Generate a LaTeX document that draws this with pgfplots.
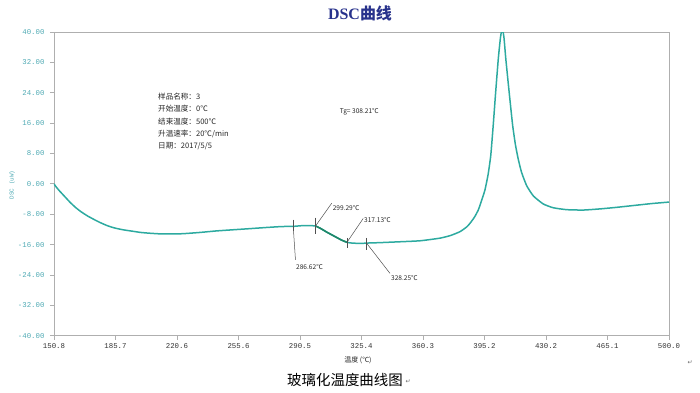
\documentclass[border=0pt]{standalone}
\usepackage{fontspec}
\setmainfont{Liberation Sans}
\newfontfamily\cjk{Noto Sans CJK SC}
\newfontfamily\monof{Liberation Mono}
\newfontfamily\serf{Liberation Serif}
\newfontfamily\djv{DejaVu Sans}
\usepackage{pgfplots}
\pgfplotsset{compat=1.18}
\definecolor{curve}{RGB}{45,170,160}
\definecolor{tickc}{RGB}{80,170,180}
\definecolor{framec}{RGB}{175,175,175}
\definecolor{titlec}{RGB}{40,50,140}
\definecolor{annc}{RGB}{80,80,80}
\definecolor{segc}{RGB}{30,135,105}
\begin{document}
\begin{tikzpicture}
\path[use as bounding box] (0,0) rectangle (700bp,393bp);
\begin{axis}[
  at={(54bp,57.3bp)}, anchor=south west, scale only axis,
  width=615bp, height=303.7bp,
  xmin=150.8, xmax=500, ymin=-40, ymax=40,
  axis line style={framec, line width=0.8bp},
  xtick={150.8,185.7,220.6,255.6,290.5,325.4,360.3,395.2,430.2,465.1,500.0},
  xticklabels={150.8,185.7,220.6,255.6,290.5,325.4,360.3,395.2,430.2,465.1,500.0},
  ytick={-40,-32,-24,-16,-8,0,8,16,24,32,40},
  yticklabels={-40.00,-32.00,-24.00,-16.00,-8.00,0.00,8.00,16.00,24.00,32.00,40.00},
  tick align=outside, major tick length=4bp,
  xtick pos=left, ytick pos=left,
  tick style={framec, line width=0.8bp},
  xticklabel style={font=\monof\fontsize{7.4}{8}\selectfont, text=black!80},
  yticklabel style={font=\monof\fontsize{7.4}{8}\selectfont, text=tickc, xshift=-2bp},
  clip=true,
]
\addplot[curve, line width=1.5bp, smooth, tension=0.3] coordinates {
(150.8,0) (152,-0.8) (154,-1.9) (156,-2.9) (158,-3.9) (160,-4.9) (163,-6.2) (166,-7.3)
(170,-8.5) (174,-9.5) (177,-10.2) (181,-11.0) (185,-11.6) (190,-12.1) (195.7,-12.5)
(200,-12.8) (205,-13.0) (210,-13.15) (215,-13.2) (220,-13.2) (225,-13.1) (233.7,-12.8)
(243,-12.4) (252.4,-12.1) (262,-11.8) (271.2,-11.5) (280,-11.25) (286.62,-11.2)
(292,-11.0) (296,-11.0) (299.29,-11.1) (302,-11.7) (306,-12.8) (310,-13.8) (314,-14.8)
(317.13,-15.4) (320,-15.6) (325,-15.7) (328.25,-15.6) (335,-15.5) (345,-15.3)
(358.6,-15.0) (370,-14.3) (376,-13.6) (381.3,-12.6) (385,-11.4) (387,-10.4) (389.5,-8.8)
(391.7,-6.9) (393.5,-4.5) (395.5,-1.6) (397.3,2.5) (398.8,7.5) (400.2,15.5) (401.6,24.3)
(403.1,33.1) (404.3,38.5) (405.3,41) (406.3,38.5) (407.3,33.1) (409.2,24.3) (411.2,15.5)
(412.8,10.3) (414.4,6.5) (416.3,3.0) (419.2,-0.5) (423.0,-3.2) (428.6,-5.3) (434.3,-6.3)
(441.9,-6.8) (451.3,-6.9) (460.8,-6.6) (470,-6.2) (480,-5.7) (490,-5.2) (500,-4.8)
};
\addplot[segc, line width=1.6bp] coordinates {
(299.29,-11.1) (302,-11.7) (306,-12.8) (310,-13.8) (314,-14.8) (317.13,-15.4)
};
% annotation marks
\draw[annc, line width=0.5bp] (axis cs:286.62,-9.4) -- (axis cs:286.62,-12.4);
\draw[annc, line width=0.5bp] (axis cs:286.62,-11.2) -- (axis cs:287.9,-20.0);
\draw[annc, line width=0.5bp] (axis cs:299.29,-8.9) -- (axis cs:299.29,-13.3);
\draw[annc, line width=0.5bp] (axis cs:299.29,-11.1) -- (axis cs:308.5,-5.1);
\draw[annc, line width=0.5bp] (axis cs:317.13,-14.2) -- (axis cs:317.13,-17.0);
\draw[annc, line width=0.5bp] (axis cs:317.13,-15.4) -- (axis cs:326.4,-9.1);
\draw[annc, line width=0.5bp] (axis cs:328.25,-14.2) -- (axis cs:328.25,-17.4);
\draw[annc, line width=0.5bp] (axis cs:328.25,-15.6) -- (axis cs:341.6,-23.6);
\begin{scope}[every node/.style={font=\cjk\fontsize{6.6}{8}\selectfont, text=black!85, inner sep=0pt, anchor=west}]
\node at (axis cs:309.0,-6.4) {299.29℃};
\node at (axis cs:326.8,-9.6) {317.13℃};
\node at (axis cs:288.2,-21.9) {286.62℃};
\node at (axis cs:342.1,-24.9) {328.25℃};
\node at (axis cs:313.0,18.9) {Tg= 308.21℃};
\end{scope}
\end{axis}
% info block
\begin{scope}[every node/.style={font=\cjk\fontsize{7.6}{9}\selectfont, text=black!85, inner sep=0pt, anchor=west}]
\node at (158bp,296bp) {样品名称：3};
\node at (158bp,284bp) {开始温度：0℃};
\node at (158bp,271.5bp) {结束温度：500℃};
\node at (158bp,259bp) {升温速率：20℃/min};
\node at (158bp,247bp) {日期：2017/5/5};
\end{scope}
% title and labels
\node[text=titlec, inner sep=0pt] at (360bp,380bp) {\fontsize{16}{18}\selectfont{\serf\bfseries DSC}{\cjk\bfseries 曲线}};
\node[rotate=90, text=tickc, inner sep=0pt] at (12bp,208bp) {\monof\fontsize{6}{7}\selectfont DSC (uW)};
\node[inner sep=0pt, text=black!85] at (358bp,33bp) {\cjk\fontsize{7}{8}\selectfont 温度 (℃)};
\node[inner sep=0pt] at (345bp,13bp) {\cjk\fontsize{14.5}{16}\selectfont 玻璃化温度曲线图};
\node[inner sep=0pt, text=black!60] at (408bp,11bp) {\djv\fontsize{6}{7}\selectfont ↵};
\node[inner sep=0pt, text=black!60] at (690bp,30bp) {\djv\fontsize{6}{7}\selectfont ↵};
\end{tikzpicture}
\end{document}
